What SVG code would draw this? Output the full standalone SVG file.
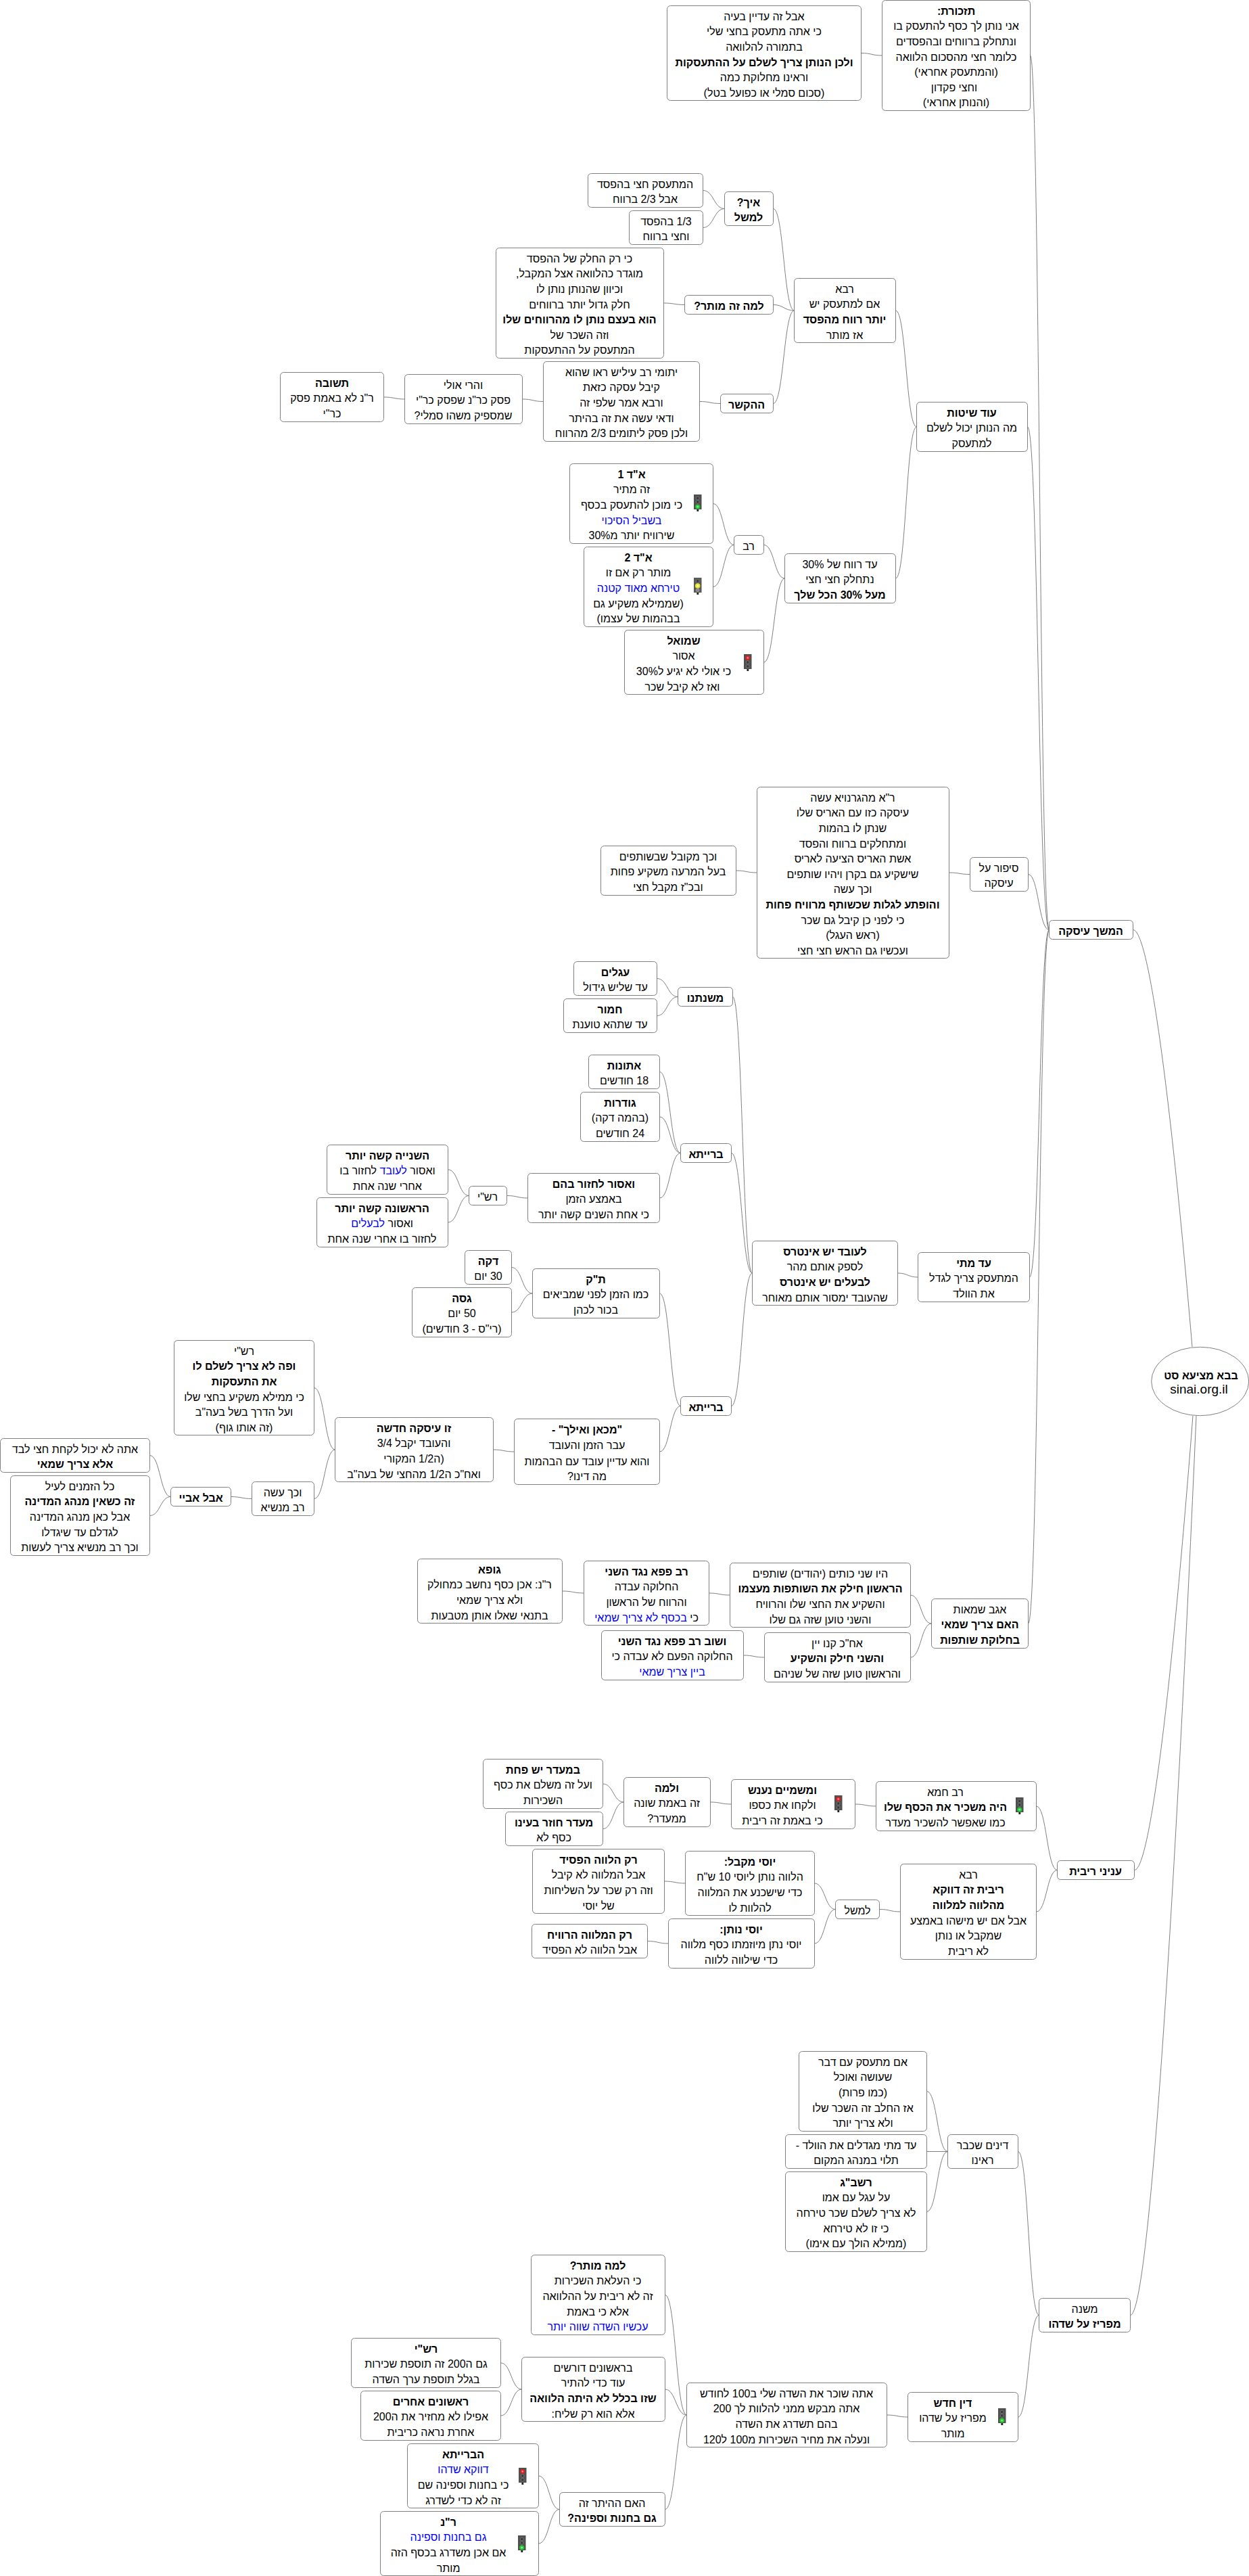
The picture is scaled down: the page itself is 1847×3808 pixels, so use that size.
<svg xmlns="http://www.w3.org/2000/svg" width="1847" height="3808" viewBox="0 0 1847 3808">
<style>
text{font-family:"Liberation Sans",Arial,sans-serif;font-size:16px;direction:rtl;unicode-bidi:embed;text-anchor:middle;fill:#000}
.b{font-weight:700}
.u{fill:#00f}
.n{fill:#fff;stroke:#808080;stroke-width:1;rx:5px}
.c path{fill:none;stroke:#808080;stroke-width:1}
</style>
<defs>
<g id="tlg"><rect x="0" y="0" width="11.5" height="22" fill="#505050"/><rect x="4.4" y="22" width="2.8" height="3" fill="#222"/><circle cx="5.7" cy="5.5" r="2.4" fill="#3a3a3a" stroke="#888" stroke-width=".7"/><circle cx="5.7" cy="11" r="2.4" fill="#3a3a3a" stroke="#888" stroke-width=".7"/><circle cx="5.7" cy="18" r="3.6" fill="#22c832"/><circle cx="5.7" cy="18" r="1.6" fill="#7cf07c"/></g>
<g id="tly"><rect x="0" y="0" width="11.5" height="22" fill="#5a5a5a"/><rect x="4.4" y="22" width="2.8" height="3" fill="#222"/><circle cx="5.7" cy="5" r="2.4" fill="#3a3a3a" stroke="#888" stroke-width=".7"/><circle cx="5.7" cy="12" r="3.8" fill="#e6e632"/><circle cx="5.7" cy="12" r="1.7" fill="#fbfb90"/><circle cx="5.7" cy="18.5" r="2.4" fill="#888" stroke="#aaa" stroke-width=".7"/></g>
<g id="tlr"><rect x="0" y="0" width="11.5" height="22" fill="#505050"/><rect x="4.4" y="22" width="2.8" height="3" fill="#222"/><circle cx="5.7" cy="5.5" r="3.4" fill="#e02020"/><circle cx="5.7" cy="5.5" r="1.4" fill="#ff8080"/><circle cx="5.7" cy="12" r="2.4" fill="#3a3a3a" stroke="#888" stroke-width=".7"/><circle cx="5.7" cy="18" r="2.4" fill="#3a3a3a" stroke="#888" stroke-width=".7"/></g>
</defs>
<rect width="1847" height="3808" fill="#fff"/>
<g id="connectors" class="c">
<path d="M1273.5 78.5C1289 78.5 1289 82 1304.5 82"/>
<path d="M1523.5 82C1537.5 82 1537.5 1374.5 1551.5 1374.5"/>
<path d="M1519.5 631C1535.5 631 1535.5 1374.5 1551.5 1374.5"/>
<path d="M1520.5 1292.5C1536 1292.5 1536 1374.5 1551.5 1374.5"/>
<path d="M1522.5 1888C1537 1888 1537 1374.5 1551.5 1374.5"/>
<path d="M1520.5 2400C1536 2400 1536 1374.5 1551.5 1374.5"/>
<path d="M1675.5 1374.5C1701.8 1374.5 1736.8 1682.8 1763 1991"/>
<path d="M1677.5 2764.5C1703.5 2764.5 1738 2428.8 1764 2093"/>
<path d="M1671.5 3422.5C1700.8 3422.5 1739.8 2757.8 1769 2093"/>
<path d="M1324.5 459C1340 459 1340 631 1355.5 631"/>
<path d="M1324.5 855C1340 855 1340 631 1355.5 631"/>
<path d="M1143.5 308.5C1159 308.5 1159 459 1174.5 459"/>
<path d="M1143.5 450.5C1159 450.5 1159 459 1174.5 459"/>
<path d="M1143.5 596.5C1159 596.5 1159 459 1174.5 459"/>
<path d="M1039.5 281.5C1055.5 281.5 1055.5 308.5 1071.5 308.5"/>
<path d="M1039.5 336.5C1055.5 336.5 1055.5 308.5 1071.5 308.5"/>
<path d="M981.5 448C997 448 997 450.5 1012.5 450.5"/>
<path d="M1034.5 593.5C1050 593.5 1050 596.5 1065.5 596.5"/>
<path d="M772.5 590C788 590 788 593.5 803.5 593.5"/>
<path d="M567.5 587C583 587 583 590 598.5 590"/>
<path d="M1129.5 805.5C1145 805.5 1145 855 1160.5 855"/>
<path d="M1129.5 979C1145 979 1145 855 1160.5 855"/>
<path d="M1054.5 744.5C1070 744.5 1070 805.5 1085.5 805.5"/>
<path d="M1054.5 867.5C1070 867.5 1070 805.5 1085.5 805.5"/>
<path d="M1403.5 1290C1419 1290 1419 1292.5 1434.5 1292.5"/>
<path d="M1088.5 1287C1104 1287 1104 1290 1119.5 1290"/>
<path d="M1327.5 1882C1342.5 1882 1342.5 1888 1357.5 1888"/>
<path d="M1083.5 1473.5C1098 1473.5 1098 1882 1112.5 1882"/>
<path d="M1081.5 1704.5C1097 1704.5 1097 1882 1112.5 1882"/>
<path d="M1081.5 2078.5C1097 2078.5 1097 1882 1112.5 1882"/>
<path d="M971.5 1446.5C987 1446.5 987 1473.5 1002.5 1473.5"/>
<path d="M971.5 1501.5C987 1501.5 987 1473.5 1002.5 1473.5"/>
<path d="M975.5 1584.5C991 1584.5 991 1704.5 1006.5 1704.5"/>
<path d="M975.5 1651C991 1651 991 1704.5 1006.5 1704.5"/>
<path d="M975.5 1771C991 1771 991 1704.5 1006.5 1704.5"/>
<path d="M749.5 1767.5C765 1767.5 765 1771 780.5 1771"/>
<path d="M662.5 1729C678 1729 678 1767.5 693.5 1767.5"/>
<path d="M662.5 1807C678 1807 678 1767.5 693.5 1767.5"/>
<path d="M975.5 1912C991 1912 991 2078.5 1006.5 2078.5"/>
<path d="M975.5 2146C991 2146 991 2078.5 1006.5 2078.5"/>
<path d="M756.5 1873.5C772 1873.5 772 1912 787.5 1912"/>
<path d="M756.5 1940C772 1940 772 1912 787.5 1912"/>
<path d="M729.5 2143C745 2143 745 2146 760.5 2146"/>
<path d="M464.5 2051.5C480 2051.5 480 2143 495.5 2143"/>
<path d="M464.5 2215.5C480 2215.5 480 2143 495.5 2143"/>
<path d="M341.5 2212.5C357 2212.5 357 2215.5 372.5 2215.5"/>
<path d="M221.5 2151.5C237 2151.5 237 2212.5 252.5 2212.5"/>
<path d="M221.5 2240.5C237 2240.5 237 2212.5 252.5 2212.5"/>
<path d="M1346.5 2358C1362 2358 1362 2400 1377.5 2400"/>
<path d="M1346.5 2450C1362 2450 1362 2400 1377.5 2400"/>
<path d="M1048.5 2355C1064 2355 1064 2358 1079.5 2358"/>
<path d="M831.5 2352C847.5 2352 847.5 2355 863.5 2355"/>
<path d="M1099.5 2447C1115 2447 1115 2450 1130.5 2450"/>
<path d="M1532.5 2670C1548 2670 1548 2764.5 1563.5 2764.5"/>
<path d="M1532.5 2826C1548 2826 1548 2764.5 1563.5 2764.5"/>
<path d="M1264.5 2667C1280 2667 1280 2670 1295.5 2670"/>
<path d="M1050.5 2664C1066 2664 1066 2667 1081.5 2667"/>
<path d="M891.5 2637C907 2637 907 2664 922.5 2664"/>
<path d="M891.5 2703.5C907 2703.5 907 2664 922.5 2664"/>
<path d="M1300.5 2822.5C1316 2822.5 1316 2826 1331.5 2826"/>
<path d="M1204.5 2784C1220 2784 1220 2822.5 1235.5 2822.5"/>
<path d="M1204.5 2873C1220 2873 1220 2822.5 1235.5 2822.5"/>
<path d="M982.5 2781C998 2781 998 2784 1013.5 2784"/>
<path d="M957.5 2869.5C973 2869.5 973 2873 988.5 2873"/>
<path d="M1505.5 3180.5C1521 3180.5 1521 3422.5 1536.5 3422.5"/>
<path d="M1505.5 3573C1521 3573 1521 3422.5 1536.5 3422.5"/>
<path d="M1370.5 3091.5C1386 3091.5 1386 3180.5 1401.5 3180.5"/>
<path d="M1370.5 3180.5L1401.5 3180.5"/>
<path d="M1370.5 3269.5C1386 3269.5 1386 3180.5 1401.5 3180.5"/>
<path d="M1311.5 3570C1327 3570 1327 3573 1342.5 3573"/>
<path d="M983.5 3392.5C999.5 3392.5 999.5 3570 1015.5 3570"/>
<path d="M983.5 3532C999.5 3532 999.5 3570 1015.5 3570"/>
<path d="M983.5 3709.5C999.5 3709.5 999.5 3570 1015.5 3570"/>
<path d="M740.5 3493C756 3493 756 3532 771.5 3532"/>
<path d="M740.5 3571C756 3571 756 3532 771.5 3532"/>
<path d="M796.5 3660C812 3660 812 3709.5 827.5 3709.5"/>
<path d="M796.5 3760C812 3760 812 3709.5 827.5 3709.5"/>
</g>
<g id="root"><ellipse cx="1774.7" cy="2042" rx="72" ry="50.7" fill="#fff" stroke="#808080"/><text class="b" x="1776" y="2038.5">בבא מציעא סט</text><text x="1773" y="2060" style="direction:ltr;font-size:19px">sinai.org.il</text></g>
<g id="note" transform="translate(986,8)"><rect class="n" x=".5" y=".5" width="287" height="140"/><text x="144" y="21.7">אבל זה עדיין בעיה</text><text x="144" y="44.3">כי אתה מתעסק בחצי שלי</text><text x="144" y="66.9">בתמורה להלוואה</text><text class="b" x="144" y="89.5">ולכן הנותן צריך לשלם על ההתעסקות</text><text x="144" y="112.1">וראינו מחלוקת כמה</text><text x="144" y="134.7">(סכום סמלי או כפועל בטל)</text></g>
<g id="tazkoret" transform="translate(1304,0)"><rect class="n" x=".5" y=".5" width="219" height="163"/><text class="b" x="110" y="21.7">תזכורת:</text><text x="110" y="44.3">אני נותן לך כסף להתעסק בו</text><text x="110" y="66.9">ונתחלק ברווחים ובהפסדים</text><text x="110" y="89.5">כלומר חצי מהסכום הלוואה</text><text x="110" y="112.1">(והמתעסק אחראי)</text><text x="107" y="134.7">וחצי פקדון</text><text x="110" y="157.3">(והנותן אחראי)</text></g>
<g id="odshitot" transform="translate(1355,594)"><rect class="n" x=".5" y=".5" width="164" height="73"/><text class="b" x="82" y="21.7">עוד שיטות</text><text x="82" y="44.3">מה הנותן יכול לשלם</text><text x="82" y="66.9">למתעסק</text></g>
<g id="rava" transform="translate(1174,411)"><rect class="n" x=".5" y=".5" width="150" height="95"/><text x="75" y="21.7">רבא</text><text x="75" y="44.3">אם למתעסק יש</text><text class="b" x="75" y="66.9">יותר רווח מהפסד</text><text x="75" y="89.5">אז מותר</text></g>
<g id="eich" transform="translate(1071,283)"><rect class="n" x=".5" y=".5" width="72" height="50"/><text class="b" x="36" y="21.7">איך?</text><text class="b" x="36" y="44.3">למשל</text></g>
<g id="lama" transform="translate(1012,436)"><rect class="n" x=".5" y=".5" width="131" height="28"/><text class="b" x="66" y="21.7">למה זה מותר?</text></g>
<g id="hakesher" transform="translate(1065,582)"><rect class="n" x=".5" y=".5" width="78" height="28"/><text class="b" x="39" y="21.7">ההקשר</text></g>
<g id="mitasek" transform="translate(869,256)"><rect class="n" x=".5" y=".5" width="170" height="50"/><text x="85" y="21.7">המתעסק חצי בהפסד</text><text x="85" y="44.3">אבל 2/3 ברווח</text></g>
<g id="third" transform="translate(930,311)"><rect class="n" x=".5" y=".5" width="109" height="50"/><text x="55" y="21.7">1/3 בהפסד</text><text x="55" y="44.3">וחצי ברווח</text></g>
<g id="ki" transform="translate(733,366)"><rect class="n" x=".5" y=".5" width="248" height="163"/><text x="124" y="21.7">כי רק החלק של ההפסד</text><text x="124" y="44.3">מוגדר כהלוואה אצל המקבל,</text><text x="124" y="66.9">וכיוון שהנותן נותן לו</text><text x="124" y="89.5">חלק גדול יותר ברווחים</text><text class="b" x="124" y="112.1">הוא בעצם נותן לו מהרווחים שלו</text><text x="124" y="134.7">וזה השכר של</text><text x="124" y="157.3">המתעסק על ההתעסקות</text></g>
<g id="yatmei" transform="translate(803,534)"><rect class="n" x=".5" y=".5" width="231" height="118"/><text x="116" y="21.7">יתומי רב עיליש ראו שהוא</text><text x="116" y="44.3">קיבל עסקה כזאת</text><text x="116" y="66.9">ורבא אמר שלפי זה</text><text x="116" y="89.5">ודאי עשה את זה בהיתר</text><text x="116" y="112.1">ולכן פסק ליתומים 2/3 מהרווח</text></g>
<g id="harei" transform="translate(598,553)"><rect class="n" x=".5" y=".5" width="174" height="73"/><text x="87" y="21.7">והרי אולי</text><text x="87" y="44.3">פסק כר"נ שפסק כר"י</text><text x="87" y="66.9">שמספיק משהו סמלי?</text></g>
<g id="tshuva" transform="translate(414,550)"><rect class="n" x=".5" y=".5" width="153" height="73"/><text class="b" x="77" y="21.7">תשובה</text><text x="77" y="44.3">ר"נ לא באמת פסק</text><text x="77" y="66.9">כר"י</text></g>
<g id="adrevach" transform="translate(1160,818)"><rect class="n" x=".5" y=".5" width="164" height="73"/><text x="82" y="21.7">עד רווח של 30%</text><text x="82" y="44.3">נתחלק חצי חצי</text><text class="b" x="82" y="66.9">מעל 30% הכל שלך</text></g>
<g id="rav" transform="translate(1085,791)"><rect class="n" x=".5" y=".5" width="44" height="28"/><text x="22" y="21.7">רב</text></g>
<g id="ad1" transform="translate(842,685)"><rect class="n" x=".5" y=".5" width="212" height="118"/><text class="b" x="92" y="21.7">א"ד 1</text><text x="92" y="44.3">זה מתיר</text><text x="92" y="66.9">כי מוכן להתעסק בכסף</text><text class="u" x="92" y="89.5">בשביל הסיכוי</text><text x="92" y="112.1">שירוויח יותר מ30%</text><use href="#tlg" x="184" y="46"/></g>
<g id="ad2" transform="translate(863,808)"><rect class="n" x=".5" y=".5" width="191" height="118"/><text class="b" x="81" y="21.7">א"ד 2</text><text x="81" y="44.3">מותר רק אם זו</text><text class="u" x="81" y="66.9">טירחא מאוד קטנה</text><text x="81" y="89.5">(שממילא משקיע גם</text><text x="81" y="112.1">בבהמות של עצמו)</text><use href="#tly" x="163" y="46"/></g>
<g id="shmuel" transform="translate(923,931)"><rect class="n" x=".5" y=".5" width="206" height="95"/><text class="b" x="88" y="21.7">שמואל</text><text x="88" y="44.3">אסור</text><text x="88" y="66.9">כי אולי לא יגיע ל30%</text><text x="86" y="89.5">ואז לא קיבל שכר</text><use href="#tlr" x="177" y="36"/></g>
<g id="sipur" transform="translate(1434,1267)"><rect class="n" x=".5" y=".5" width="86" height="50"/><text x="43" y="21.7">סיפור על</text><text x="43" y="44.3">עיסקה</text></g>
<g id="ra" transform="translate(1119,1163)"><rect class="n" x=".5" y=".5" width="284" height="253"/><text x="142" y="21.7">ר"א מהגרנויא עשה</text><text x="142" y="44.3">עיסקה כזו עם האריס שלו</text><text x="142" y="66.9">שנתן לו בהמות</text><text x="142" y="89.5">ומתחלקים ברווח והפסד</text><text x="142" y="112.1">אשת האריס הציעה לאריס</text><text x="142" y="134.7">שישקיע גם בקרן ויהיו שותפים</text><text x="142" y="157.3">וכך עשה</text><text class="b" x="142" y="179.9">והופתע לגלות שכשותף מרוויח פחות</text><text x="142" y="202.5">כי לפני כן קיבל גם שכר</text><text x="142" y="225.1">(ראש העגל)</text><text x="142" y="247.7">ועכשיו גם הראש חצי חצי</text></g>
<g id="vechen" transform="translate(888,1250)"><rect class="n" x=".5" y=".5" width="200" height="73"/><text x="100" y="21.7">וכך מקובל שבשותפים</text><text x="100" y="44.3">בעל המרעה משקיע פחות</text><text x="100" y="66.9">ובכ"ז מקבל חצי</text></g>
<g id="hemshech" transform="translate(1551,1360)"><rect class="n" x=".5" y=".5" width="124" height="28"/><text class="b" x="62" y="21.7">המשך עיסקה</text></g>
<g id="admatai" transform="translate(1357,1851)"><rect class="n" x=".5" y=".5" width="165" height="73"/><text class="b" x="83" y="21.7">עד מתי</text><text x="83" y="44.3">המתעסק צריך לגדל</text><text x="83" y="66.9">את הוולד</text></g>
<g id="leoved" transform="translate(1112,1834)"><rect class="n" x=".5" y=".5" width="215" height="95"/><text class="b" x="108" y="21.7">לעובד יש אינטרס</text><text x="108" y="44.3">לספק אותם מהר</text><text class="b" x="108" y="66.9">לבעלים יש אינטרס</text><text x="108" y="89.5">שהעובד ימסור אותם מאוחר</text></g>
<g id="mishnatenu" transform="translate(1002,1459)"><rect class="n" x=".5" y=".5" width="81" height="28"/><text class="b" x="41" y="21.7">משנתנו</text></g>
<g id="agalim" transform="translate(848,1421)"><rect class="n" x=".5" y=".5" width="123" height="50"/><text class="b" x="62" y="21.7">עגלים</text><text x="62" y="44.3">עד שליש גידול</text></g>
<g id="chamor" transform="translate(833,1476)"><rect class="n" x=".5" y=".5" width="138" height="50"/><text class="b" x="69" y="21.7">חמור</text><text x="69" y="44.3">עד שתהא טוענת</text></g>
<g id="baraita1" transform="translate(1006,1690)"><rect class="n" x=".5" y=".5" width="75" height="28"/><text class="b" x="38" y="21.7">ברייתא</text></g>
<g id="atonot" transform="translate(870,1559)"><rect class="n" x=".5" y=".5" width="105" height="50"/><text class="b" x="53" y="21.7">אתונות</text><text x="53" y="44.3">18 חודשים</text></g>
<g id="gudrot" transform="translate(858,1614)"><rect class="n" x=".5" y=".5" width="117" height="73"/><text class="b" x="59" y="21.7">גודרות</text><text x="59" y="44.3">(בהמה דקה)</text><text x="59" y="66.9">24 חודשים</text></g>
<g id="veasur" transform="translate(780,1734)"><rect class="n" x=".5" y=".5" width="195" height="73"/><text class="b" x="98" y="21.7">ואסור לחזור בהם</text><text x="98" y="44.3">באמצע הזמן</text><text x="98" y="66.9">כי אחת השנים קשה יותר</text></g>
<g id="rashi1" transform="translate(693,1753)"><rect class="n" x=".5" y=".5" width="56" height="28"/><text x="28" y="21.7">רש"י</text></g>
<g id="shniya" transform="translate(483,1692)"><rect class="n" x=".5" y=".5" width="179" height="73"/><text class="b" x="90" y="21.7">השנייה קשה יותר</text><text x="90" y="44.3">ואסור <tspan class="u">לעובד</tspan>  לחזור בו</text><text x="90" y="66.9">אחרי שנה אחת</text></g>
<g id="rishona" transform="translate(468,1770)"><rect class="n" x=".5" y=".5" width="194" height="73"/><text class="b" x="97" y="21.7">הראשונה קשה יותר</text><text x="97" y="44.3">ואסור <tspan class="u">לבעלים</tspan></text><text x="97" y="66.9">לחזור בו אחרי שנה אחת</text></g>
<g id="baraita2" transform="translate(1006,2064)"><rect class="n" x=".5" y=".5" width="75" height="28"/><text class="b" x="38" y="21.7">ברייתא</text></g>
<g id="tk" transform="translate(787,1875)"><rect class="n" x=".5" y=".5" width="188" height="73"/><text class="b" x="94" y="21.7">ת"ק</text><text x="94" y="44.3">כמו הזמן לפני שמביאים</text><text x="94" y="66.9">בכור לכהן</text></g>
<g id="daka" transform="translate(687,1848)"><rect class="n" x=".5" y=".5" width="69" height="50"/><text class="b" x="35" y="21.7">דקה</text><text x="35" y="44.3">30 יום</text></g>
<g id="gasa" transform="translate(609,1903)"><rect class="n" x=".5" y=".5" width="147" height="73"/><text class="b" x="74" y="21.7">גסה</text><text x="74" y="44.3">50 יום</text><text x="74" y="66.9">(רי"ס - 3 חודשים)</text></g>
<g id="mikan" transform="translate(760,2097)"><rect class="n" x=".5" y=".5" width="215" height="97"/><text class="b" x="108" y="22">"מכאן ואילך" -</text><text x="108" y="45">עבר הזמן והעובד</text><text x="108" y="69">והוא עדיין עובד עם הבהמות</text><text x="108" y="91">מה דינו?</text></g>
<g id="zo" transform="translate(495,2095)"><rect class="n" x=".5" y=".5" width="234" height="95"/><text class="b" x="117" y="21.7">זו עיסקה חדשה</text><text x="117" y="44.3">והעובד יקבל 3/4</text><text x="117" y="66.9">(ה1/2 המקורי</text><text x="117" y="89.5">ואח"כ ה1/2 מהחצי של בעה"ב</text></g>
<g id="tashi" transform="translate(257,1981)"><rect class="n" x=".5" y=".5" width="207" height="140"/><text x="104" y="21.7">רש"י</text><text class="b" x="104" y="44.3">ופה לא צריך לשלם לו</text><text class="b" x="104" y="66.9">את התעסקות</text><text x="104" y="89.5">כי ממילא משקיע בחצי שלו</text><text x="104" y="112.1">ועל הדרך בשל בעה"ב</text><text x="104" y="134.7">(זה אותו גוף)</text></g>
<g id="vechenasa" transform="translate(372,2190)"><rect class="n" x=".5" y=".5" width="92" height="50"/><text x="46" y="21.7">וכך עשה</text><text x="46" y="44.3">רב מנשיא</text></g>
<g id="abaye" transform="translate(252,2198)"><rect class="n" x=".5" y=".5" width="89" height="28"/><text class="b" x="45" y="21.7">אבל אביי</text></g>
<g id="ata" transform="translate(0,2126)"><rect class="n" x=".5" y=".5" width="221" height="50"/><text x="111" y="21.7">אתה לא יכול לקחת חצי לבד</text><text class="b" x="111" y="44.3">אלא צריך שמאי</text></g>
<g id="kol" transform="translate(15,2181)"><rect class="n" x=".5" y=".5" width="206" height="118"/><text x="103" y="21.7">כל הזמנים לעיל</text><text class="b" x="103" y="44.3">זה כשאין מנהג המדינה</text><text x="103" y="66.9">אבל כאן מנהג המדינה</text><text x="103" y="89.5">לגדלם עד שיגדלו</text><text x="103" y="112.1">וכך רב מנשיא צריך לעשות</text></g>
<g id="agav" transform="translate(1377,2363)"><rect class="n" x=".5" y=".5" width="143" height="73"/><text x="72" y="21.7">אגב שמאות</text><text class="b" x="72" y="44.3">האם צריך שמאי</text><text class="b" x="72" y="66.9">בחלוקת שותפות</text></g>
<g id="hayu" transform="translate(1079,2310)"><rect class="n" x=".5" y=".5" width="267" height="95"/><text x="134" y="21.7">היו שני כותים (יהודים) שותפים</text><text class="b" x="134" y="44.3">הראשון חילק את השותפות מעצמו</text><text x="134" y="66.9">והשקיע את החצי שלו והרוויח</text><text x="134" y="89.5">והשני טוען שזה גם שלו</text></g>
<g id="ravpapa" transform="translate(863,2307)"><rect class="n" x=".5" y=".5" width="185" height="95"/><text class="b" x="93" y="21.7">רב פפא נגד השני</text><text x="93" y="44.3">החלוקה עבדה</text><text x="93" y="66.9">והרווח  של הראשון</text><text x="93" y="89.5">כי <tspan class="u">בכסף לא צריך שמאי</tspan></text></g>
<g id="gufa" transform="translate(617,2304)"><rect class="n" x=".5" y=".5" width="214" height="95"/><text class="b" x="107" y="21.7">גופא</text><text x="107" y="44.3">ר"נ: אכן כסף נחשב כמחולק</text><text x="107" y="66.9">ולא צריך שמאי</text><text x="107" y="89.5">בתנאי שאלו אותן מטבעות</text></g>
<g id="achar" transform="translate(1130,2413)"><rect class="n" x=".5" y=".5" width="216" height="73"/><text x="108" y="21.7">אח"כ קנו יין</text><text class="b" x="108" y="44.3">והשני חילק והשקיע</text><text x="108" y="66.9">והראשון טוען שזה של שניהם</text></g>
<g id="shuv" transform="translate(889,2410)"><rect class="n" x=".5" y=".5" width="210" height="73"/><text class="b" x="105" y="21.7">ושוב רב פפא נגד השני</text><text x="105" y="44.3">החלוקה הפעם לא עבדה כי</text><text class="u" x="105" y="66.9">ביין צריך שמאי</text></g>
<g id="inyanei" transform="translate(1563,2750)"><rect class="n" x=".5" y=".5" width="114" height="28"/><text class="b" x="57" y="21.7">עניני ריבית</text></g>
<g id="chama" transform="translate(1295,2633)"><rect class="n" x=".5" y=".5" width="237" height="73"/><text x="103" y="21.7">רב חמא</text><text class="b" x="103" y="44.3">היה משכיר את הכסף שלו</text><text x="103" y="66.9">כמו שאפשר להשכיר מעדר</text><use href="#tlg" x="207" y="24"/></g>
<g id="mishamayim" transform="translate(1081,2630)"><rect class="n" x=".5" y=".5" width="183" height="73"/><text class="b" x="76" y="21.7">ומשמיים נענש</text><text x="76" y="44.3">ולקחו את כספו</text><text x="76" y="66.9">כי באמת זה ריבית</text><use href="#tlr" x="153" y="24"/></g>
<g id="velama" transform="translate(922,2627)"><rect class="n" x=".5" y=".5" width="128" height="73"/><text class="b" x="64" y="21.7">ולמה</text><text x="64" y="44.3">זה באמת שונה</text><text x="64" y="66.9">ממעדר?</text></g>
<g id="maader1" transform="translate(714,2600)"><rect class="n" x=".5" y=".5" width="177" height="73"/><text class="b" x="89" y="21.7">במעדר יש פחת</text><text x="89" y="44.3">ועל זה משלם את כסף</text><text x="89" y="66.9">השכירות</text></g>
<g id="maader2" transform="translate(747,2678)"><rect class="n" x=".5" y=".5" width="144" height="50"/><text class="b" x="72" y="21.7">מעדר חוזר בעינו</text><text x="72" y="44.3">כסף לא</text></g>
<g id="rava2" transform="translate(1331,2755)"><rect class="n" x=".5" y=".5" width="201" height="141"/><text x="101" y="21.7">רבא</text><text class="b" x="101" y="44.3">ריבית זה דווקא</text><text class="b" x="101" y="66.9">מהלווה למלווה</text><text x="101" y="89.5">אבל אם יש מישהו באמצע</text><text x="101" y="112.1">שמקבל או נותן</text><text x="101" y="134.7">לא ריבית</text></g>
<g id="lemashal" transform="translate(1235,2808)"><rect class="n" x=".5" y=".5" width="65" height="28"/><text x="33" y="21.7">למשל</text></g>
<g id="yosi1" transform="translate(1013,2736)"><rect class="n" x=".5" y=".5" width="191" height="95"/><text class="b" x="96" y="21.7">יוסי מקבל:</text><text x="96" y="44.3">הלווה נותן ליוסי 10 ש"ח</text><text x="96" y="66.9">כדי שישכנע את המלווה</text><text x="96" y="89.5">להלוות לו</text></g>
<g id="rak1" transform="translate(787,2733)"><rect class="n" x=".5" y=".5" width="195" height="95"/><text class="b" x="98" y="21.7">רק הלווה הפסיד</text><text x="98" y="44.3">אבל המלווה לא קיבל</text><text x="98" y="66.9">וזה רק שכר על השליחות</text><text x="98" y="89.5">של יוסי</text></g>
<g id="yosi2" transform="translate(988,2836)"><rect class="n" x=".5" y=".5" width="216" height="73"/><text class="b" x="108" y="21.7">יוסי נותן:</text><text x="108" y="44.3">יוסי נתן מיוזמתו כסף מלווה</text><text x="108" y="66.9">כדי שילווה ללווה</text></g>
<g id="rak2" transform="translate(786,2844)"><rect class="n" x=".5" y=".5" width="171" height="50"/><text class="b" x="86" y="21.7">רק המלווה הרוויח</text><text x="86" y="44.3">אבל הלווה לא הפסיד</text></g>
<g id="mishna" transform="translate(1536,3397)"><rect class="n" x=".5" y=".5" width="135" height="50"/><text x="68" y="21.7">משנה</text><text class="b" x="68" y="44.3">מפריז על שדהו</text></g>
<g id="dinim" transform="translate(1401,3155)"><rect class="n" x=".5" y=".5" width="104" height="50"/><text x="52" y="21.7">דינים שכבר</text><text x="52" y="44.3">ראינו</text></g>
<g id="im" transform="translate(1181,3032)"><rect class="n" x=".5" y=".5" width="189" height="118"/><text x="95" y="21.7">אם מתעסק עם דבר</text><text x="95" y="44.3">שעושה ואוכל</text><text x="95" y="66.9">(כמו פרות)</text><text x="95" y="89.5">אז החלב זה השכר שלו</text><text x="95" y="112.1">ולא צריך יותר</text></g>
<g id="admatai2" transform="translate(1161,3155)"><rect class="n" x=".5" y=".5" width="209" height="50"/><text x="105" y="21.7">עד מתי מגדלים את הוולד -</text><text x="105" y="44.3">תלוי במנהג המקום</text></g>
<g id="rashbag" transform="translate(1161,3210)"><rect class="n" x=".5" y=".5" width="209" height="118"/><text class="b" x="105" y="21.7">רשב"ג</text><text x="105" y="44.3">על עגל עם אמו</text><text x="105" y="66.9">לא צריך לשלם שכר טירחה</text><text x="105" y="89.5">כי זו לא טירחא</text><text x="105" y="112.1">(ממילא הולך עם אימו)</text></g>
<g id="din" transform="translate(1342,3536)"><rect class="n" x=".5" y=".5" width="163" height="73"/><text class="b" x="67" y="21.7">דין חדש</text><text x="67" y="44.3">מפריז על שדהו</text><text x="67" y="66.9">מותר</text><use href="#tlg" x="134" y="24"/></g>
<g id="atashocher" transform="translate(1015,3522)"><rect class="n" x=".5" y=".5" width="296" height="95"/><text x="148" y="21.7">אתה שוכר את השדה שלי ב100 לחודש</text><text x="148" y="44.3">אתה מבקש ממני להלוות לך 200</text><text x="148" y="66.9">בהם תשדרג את השדה</text><text x="148" y="89.5">ונעלה את מחיר השכירות מ100 ל120</text></g>
<g id="lamamutar" transform="translate(785,3333)"><rect class="n" x=".5" y=".5" width="198" height="118"/><text class="b" x="99" y="21.7">למה מותר?</text><text x="99" y="44.3">כי העלאת השכירות</text><text x="99" y="66.9">זה לא ריבית על ההלוואה</text><text x="99" y="89.5">אלא כי באמת</text><text class="u" x="99" y="112.1">עכשיו השדה שווה יותר</text></g>
<g id="barishonim" transform="translate(771,3484)"><rect class="n" x=".5" y=".5" width="212" height="95"/><text x="106" y="21.7">בראשונים דורשים</text><text x="106" y="44.3">עוד כדי להתיר</text><text class="b" x="106" y="66.9">שזו בכלל לא היתה הלוואה</text><text x="106" y="89.5">אלא הוא רק שליח:</text></g>
<g id="rashi2" transform="translate(519,3456)"><rect class="n" x=".5" y=".5" width="221" height="73"/><text class="b" x="111" y="21.7">רש"י</text><text x="111" y="44.3">גם ה200 זה תוספת שכירות</text><text x="111" y="66.9">בגלל תוספת ערך השדה</text></g>
<g id="rishonim" transform="translate(533,3534)"><rect class="n" x=".5" y=".5" width="207" height="73"/><text class="b" x="104" y="21.7">ראשונים אחרים</text><text x="104" y="44.3">אפילו לא מחזיר את ה200</text><text x="104" y="66.9">אחרת נראה כריבית</text></g>
<g id="haim" transform="translate(827,3684)"><rect class="n" x=".5" y=".5" width="156" height="50"/><text x="78" y="21.7">האם ההיתר זה</text><text class="b" x="78" y="44.3">גם בחנות וספינה?</text></g>
<g id="baraita3" transform="translate(602,3612)"><rect class="n" x=".5" y=".5" width="194" height="95"/><text class="b" x="83" y="21.7">הברייתא</text><text class="u" x="83" y="44.3">דווקא שדהו</text><text x="83" y="66.9">כי בחנות וספינה שם</text><text x="83" y="89.5">זה לא כדי לשדרג</text><use href="#tlr" x="165" y="36"/></g>
<g id="ran" transform="translate(562,3712)"><rect class="n" x=".5" y=".5" width="234" height="95"/><text class="b" x="101" y="21.7">ר"נ</text><text class="u" x="101" y="44.3">גם בחנות וספינה</text><text x="101" y="66.9">אם אכן משדרג בכסף הזה</text><text x="101" y="89.5">מותר</text><use href="#tlg" x="204" y="36"/></g>
</svg>
